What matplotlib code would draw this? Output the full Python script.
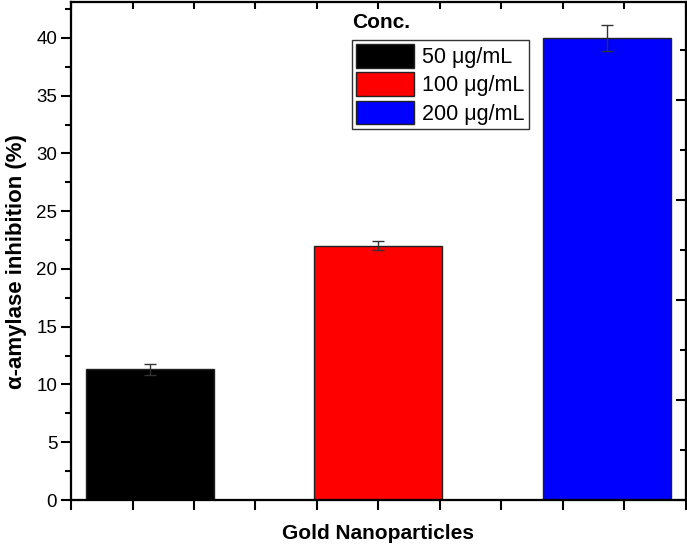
import numpy as np
import matplotlib
matplotlib.use("Agg")
import matplotlib.pyplot as plt
from matplotlib.ticker import MultipleLocator, FixedLocator

# Data
concentrations = ['50 μg/mL', '100 μg/mL', '200 μg/mL']
inhibition = [11.3, 22.0, 40.0]
inhibition_err = [0.5, 0.4, 1.1]
bar_colors = ['#000000', '#ff0000', '#0000ff']

plt.rcParams['font.family'] = ['Liberation Sans', 'DejaVu Sans']


def plot_inhibition():
    fig = plt.figure(figsize=(6.87, 5.46), dpi=100)
    ax = fig.add_axes([0.1035, 0.0842, 0.8945, 0.912])

    x = np.arange(1, len(inhibition) + 1)
    xmin, xmax = 0.655, 3.345
    ax.bar(x, inhibition, width=0.56, color=bar_colors, edgecolor='#222222',
           linewidth=1.0, label=concentrations, zorder=2)
    ax.errorbar(x, inhibition, yerr=inhibition_err, fmt='none', ecolor='#333333',
                elinewidth=1.0, capsize=4, capthick=1.0, zorder=3)

    ax.set_xlim(xmin, xmax)
    ax.set_ylim(0, 43.1)

    # left axis: labelled ticks, outward
    ax.yaxis.set_major_locator(MultipleLocator(5))
    ax.yaxis.set_minor_locator(MultipleLocator(2.5))
    ax.tick_params(axis='y', which='major', direction='out', length=7, width=1.5,
                   labelsize=13.5, pad=3)
    ax.tick_params(axis='y', which='minor', direction='out', length=4.5, width=1.5)
    # bottom axis: unlabelled ticks, outward
    ax.xaxis.set_major_locator(FixedLocator(np.linspace(xmin, xmax, 11)))
    ax.tick_params(axis='x', which='major', direction='out', length=7, width=1.5,
                   labelbottom=False)

    for s in ax.spines.values():
        s.set_linewidth(1.5)

    # top and right axes with their own inward ticks
    ax_top = ax.twiny()
    ax_top.set_xlim(0, 10)
    ax_top.xaxis.set_major_locator(MultipleLocator(1))
    ax_top.tick_params(axis='x', direction='in', length=5, width=1.5, labeltop=False)
    ax_right = ax.twinx()
    ax_right.set_ylim(0, 9.96)
    ax_right.yaxis.set_major_locator(MultipleLocator(2))
    ax_right.yaxis.set_minor_locator(MultipleLocator(1))
    ax_right.tick_params(axis='y', which='major', direction='in', length=7, width=1.5,
                         labelright=False)
    ax_right.tick_params(axis='y', which='minor', direction='in', length=4, width=1.5)
    for a in (ax_top, ax_right):
        for s in a.spines.values():
            s.set_linewidth(1.5)

    ax.set_ylabel('α-amylase inhibition (%)', fontsize=16, fontweight='bold')
    ax.yaxis.set_label_coords(-0.071, 0.478)
    ax.set_xlabel('Gold Nanoparticles', fontsize=15, fontweight='bold', labelpad=10)

    leg = ax.legend(loc='upper left', bbox_to_anchor=(0.457, 0.924), borderaxespad=0,
                    fontsize=15.5, handlelength=2.7, handleheight=1.3, labelspacing=0.2,
                    handletextpad=0.35, borderpad=0.2, fancybox=False, framealpha=1)
    leg.get_frame().set_edgecolor('#333333')
    leg.get_frame().set_linewidth(1.0)
    leg.set_zorder(5)
    ax.text(0.458, 0.958, 'Conc.', transform=ax.transAxes, fontsize=15,
            fontweight='bold', ha='left', va='center')

    fig.savefig('out.png', dpi=100)


if __name__ == "__main__":
    plot_inhibition()
